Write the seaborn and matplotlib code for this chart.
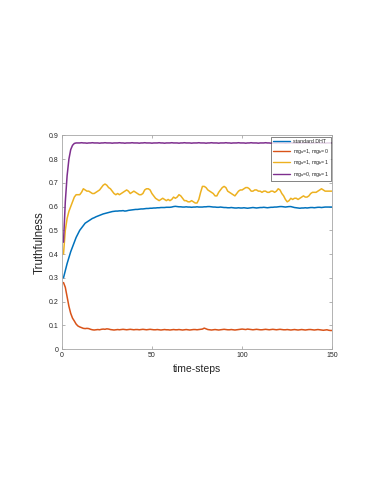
import matplotlib
matplotlib.use("Agg")
import matplotlib.pyplot as plt
import seaborn as sns
import pandas as pd

sns.set_style("white")
plt.rcParams['font.family'] = ['Liberation Sans', 'DejaVu Sans']
plt.rcParams['mathtext.fontset'] = 'custom'
plt.rcParams['mathtext.rm'] = 'Liberation Sans'
plt.rcParams['mathtext.it'] = 'Liberation Sans'

series_names = ["standard DHT", "mg$_a$=1, mg$_b$=0", "mg$_a$=1, mg$_b$=1", "mg$_a$=0, mg$_b$=1"]
colors = ["#0072BD", "#D95319", "#EDB120", "#7E2F8E"]

steps = list(range(1, 151))

standard_dht = [
    0.300, 0.330, 0.360, 0.385, 0.410, 0.430, 0.450, 0.470, 0.485, 0.500,
    0.510, 0.520, 0.530, 0.535, 0.540, 0.545, 0.550, 0.553, 0.557, 0.560,
    0.563, 0.566, 0.569, 0.571, 0.573, 0.575, 0.577, 0.579, 0.580, 0.581,
    0.581, 0.582, 0.582, 0.583, 0.581, 0.582, 0.584, 0.585, 0.586, 0.587,
    0.588, 0.588, 0.589, 0.590, 0.590, 0.591, 0.592, 0.592, 0.593, 0.593,
    0.594, 0.594, 0.595, 0.595, 0.596, 0.596, 0.596, 0.597, 0.597, 0.597,
    0.598, 0.600, 0.601, 0.600, 0.599, 0.599, 0.598, 0.598, 0.599, 0.598,
    0.598, 0.597, 0.598, 0.598, 0.599, 0.598, 0.598, 0.598, 0.599, 0.599,
    0.600, 0.600, 0.599, 0.598, 0.598, 0.597, 0.597, 0.598, 0.597, 0.596,
    0.596, 0.595, 0.595, 0.596, 0.595, 0.594, 0.594, 0.595, 0.594, 0.594,
    0.595, 0.594, 0.593, 0.594, 0.595, 0.596, 0.595, 0.594, 0.595, 0.596,
    0.596, 0.597, 0.596, 0.595, 0.596, 0.597, 0.597, 0.598, 0.598, 0.599,
    0.600, 0.600, 0.599, 0.598, 0.599, 0.600, 0.600, 0.598, 0.596, 0.595,
    0.594, 0.593, 0.594, 0.594, 0.595, 0.594, 0.595, 0.596, 0.596, 0.595,
    0.596, 0.597, 0.597, 0.596, 0.597, 0.598, 0.598, 0.598, 0.598, 0.598,
]

mga1_mgb0 = [
    0.280, 0.260, 0.220, 0.180, 0.150, 0.130, 0.118, 0.105, 0.097, 0.093,
    0.090, 0.087, 0.086, 0.087, 0.086, 0.083, 0.081, 0.080, 0.081, 0.082,
    0.081, 0.083, 0.084, 0.083, 0.085, 0.084, 0.082, 0.081, 0.080, 0.081,
    0.082, 0.081, 0.082, 0.083, 0.082, 0.081, 0.082, 0.083, 0.082, 0.081,
    0.082, 0.082, 0.081, 0.082, 0.083, 0.082, 0.081, 0.082, 0.083, 0.082,
    0.081, 0.081, 0.082, 0.081, 0.080, 0.081, 0.082, 0.081, 0.081, 0.080,
    0.081, 0.082, 0.081, 0.081, 0.082, 0.081, 0.080, 0.081, 0.082, 0.081,
    0.080, 0.081, 0.082, 0.082, 0.081, 0.082, 0.083, 0.084, 0.088, 0.085,
    0.082, 0.081, 0.080, 0.081, 0.082, 0.081, 0.080, 0.081, 0.082, 0.083,
    0.082, 0.081, 0.081, 0.082, 0.081, 0.080, 0.081, 0.082, 0.083, 0.084,
    0.083, 0.082, 0.084, 0.083, 0.082, 0.081, 0.082, 0.083, 0.082, 0.081,
    0.081, 0.082, 0.083, 0.082, 0.081, 0.082, 0.083, 0.082, 0.081, 0.082,
    0.083, 0.082, 0.081, 0.081, 0.082, 0.081, 0.080, 0.081, 0.082, 0.081,
    0.080, 0.081, 0.082, 0.081, 0.080, 0.081, 0.082, 0.082, 0.081, 0.080,
    0.081, 0.082, 0.081, 0.080, 0.079, 0.080, 0.081, 0.079, 0.078, 0.078,
]

mga1_mgb1 = [
    0.400, 0.500, 0.550, 0.580, 0.600, 0.620, 0.640, 0.650, 0.650, 0.650,
    0.660, 0.675, 0.670, 0.665, 0.665, 0.660, 0.655, 0.655, 0.660, 0.665,
    0.670, 0.680, 0.690, 0.695, 0.690, 0.680, 0.675, 0.665, 0.655, 0.650,
    0.655, 0.650, 0.655, 0.660, 0.665, 0.670, 0.665, 0.655, 0.660, 0.665,
    0.660, 0.655, 0.650, 0.650, 0.655, 0.670, 0.675, 0.675, 0.670, 0.655,
    0.645, 0.635, 0.630, 0.625, 0.630, 0.635, 0.630, 0.625, 0.630, 0.625,
    0.630, 0.640, 0.635, 0.640, 0.650, 0.645, 0.635, 0.625, 0.625, 0.620,
    0.620, 0.625, 0.620, 0.615, 0.615, 0.630, 0.660, 0.685, 0.685, 0.680,
    0.670, 0.665, 0.660, 0.655, 0.645, 0.645, 0.660, 0.670, 0.680, 0.685,
    0.680, 0.665, 0.660, 0.655, 0.650, 0.645, 0.655, 0.665, 0.670, 0.670,
    0.675, 0.680, 0.680, 0.675, 0.665, 0.665, 0.670, 0.670, 0.665, 0.665,
    0.660, 0.665, 0.665, 0.660, 0.660, 0.665, 0.665, 0.660, 0.665, 0.675,
    0.670, 0.655, 0.645, 0.630, 0.620, 0.625, 0.635, 0.630, 0.635, 0.635,
    0.630, 0.635, 0.640, 0.645, 0.640, 0.640, 0.645, 0.655, 0.660, 0.660,
    0.660, 0.665, 0.670, 0.675, 0.670, 0.665, 0.665, 0.665, 0.665, 0.665,
]

mga0_mgb1 = [
    0.450, 0.620, 0.730, 0.800, 0.840, 0.858, 0.866, 0.868, 0.868, 0.868,
    0.869, 0.868, 0.868, 0.867, 0.868, 0.868, 0.869, 0.868, 0.868, 0.868,
    0.867, 0.868, 0.868, 0.869, 0.868, 0.868, 0.868, 0.867, 0.868, 0.868,
    0.868, 0.869, 0.868, 0.868, 0.867, 0.868, 0.868, 0.868, 0.869, 0.868,
    0.868, 0.868, 0.867, 0.868, 0.868, 0.869, 0.868, 0.868, 0.868, 0.867,
    0.868, 0.868, 0.868, 0.869, 0.868, 0.868, 0.867, 0.868, 0.868, 0.868,
    0.869, 0.868, 0.868, 0.868, 0.867, 0.868, 0.868, 0.869, 0.868, 0.868,
    0.868, 0.867, 0.868, 0.868, 0.868, 0.869, 0.868, 0.868, 0.868, 0.867,
    0.868, 0.868, 0.869, 0.868, 0.868, 0.868, 0.867, 0.868, 0.868, 0.868,
    0.869, 0.868, 0.868, 0.867, 0.868, 0.868, 0.868, 0.869, 0.868, 0.868,
    0.868, 0.867, 0.868, 0.868, 0.869, 0.868, 0.868, 0.868, 0.867, 0.868,
    0.868, 0.868, 0.869, 0.868, 0.868, 0.867, 0.868, 0.868, 0.868, 0.869,
    0.868, 0.868, 0.868, 0.867, 0.868, 0.868, 0.869, 0.868, 0.868, 0.868,
    0.867, 0.868, 0.868, 0.868, 0.869, 0.868, 0.868, 0.867, 0.868, 0.868,
    0.868, 0.869, 0.868, 0.868, 0.868, 0.867, 0.868, 0.868, 0.868, 0.868,
]

x_ticks = [0, 50, 100, 150]
x_tick_labels = ["0", "50", "100", "150"]
y_ticks = [0, 0.1, 0.2, 0.3, 0.4, 0.5, 0.6, 0.7, 0.8, 0.9]
y_tick_labels = ["0", "0.1", "0.2", "0.3", "0.4", "0.5", "0.6", "0.7", "0.8", "0.9"]

all_values = [standard_dht, mga1_mgb0, mga1_mgb1, mga0_mgb1]
frames = []
for name, vals in zip(series_names, all_values):
    frames.append(pd.DataFrame({"step": steps, "value": vals, "series": name}))
df = pd.concat(frames, ignore_index=True)

fig = plt.figure(figsize=(3.82, 4.94), dpi=100)
ax = fig.add_axes([0.1615, 0.2935, 0.7085, 0.4325])

sns.lineplot(data=df, x="step", y="value", hue="series", hue_order=series_names,
             palette=colors, linewidth=1.1, ax=ax, legend=True)

ax.set_xlim(0, 150)
ax.set_ylim(0, 0.9)
ax.set_xticks(x_ticks)
ax.set_xticklabels(x_tick_labels)
ax.set_yticks(y_ticks)
ax.set_yticklabels(y_tick_labels)

grey = "#262626"
axcol = "#a6a6a6"
for sp in ax.spines.values():
    sp.set_visible(True)
    sp.set_color(axcol)
    sp.set_linewidth(0.6)
ax.tick_params(axis="both", which="both", direction="in", length=2.5, width=0.6,
               color=axcol, labelsize=5, labelcolor=grey, top=True, right=True,
               bottom=True, left=True, pad=2.5)

ax.set_xlabel("time-steps", fontsize=7.5, color=grey, labelpad=3)
ax.set_ylabel("Truthfulness", fontsize=8.3, color=grey, labelpad=2)

leg = ax.legend(loc="upper right", fontsize=3.8, frameon=True, fancybox=False,
                borderpad=0.4, handlelength=3.2, labelspacing=0.5,
                borderaxespad=0.3, handletextpad=0.5)
leg.get_frame().set_edgecolor("#262626")
leg.get_frame().set_linewidth(0.5)
for line in leg.get_lines():
    line.set_linewidth(1.0)

fig.savefig("out.png", dpi=100)
